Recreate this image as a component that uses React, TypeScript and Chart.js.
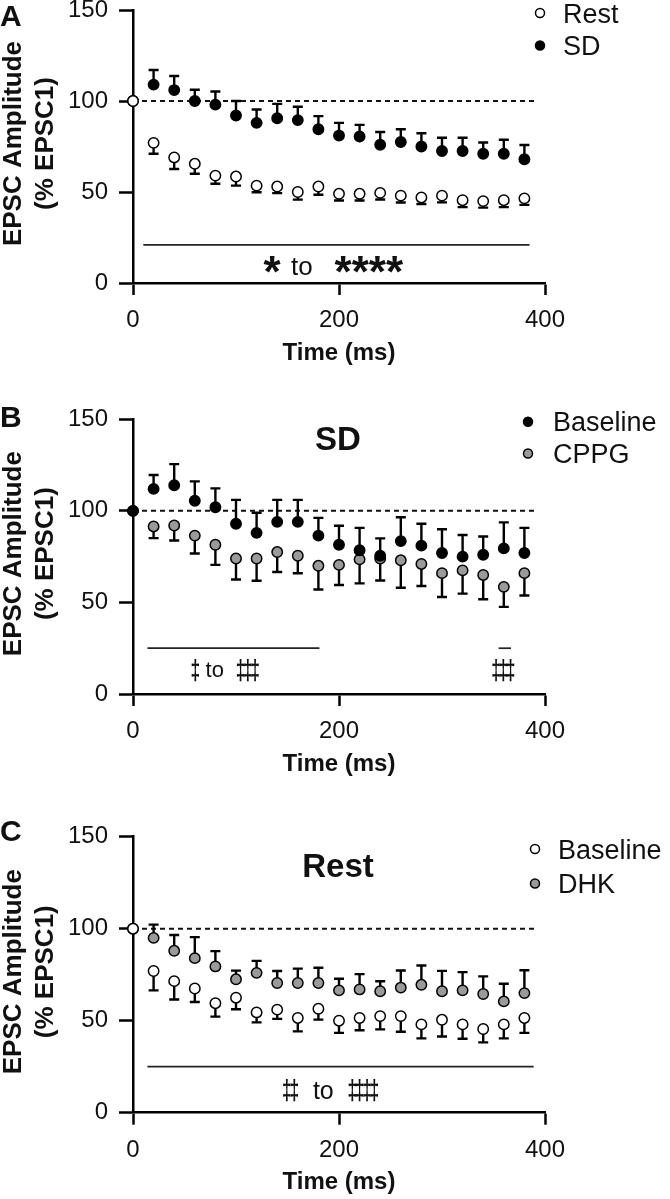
import React, { useEffect, useRef } from "react";
import { Chart, registerables } from "chart.js";

Chart.register(...registerables);

// ---------------- DATA ----------------
const TIME_MS = [0, 20, 40, 60, 80, 100, 120, 140, 160, 180, 200, 220, 240, 260, 280, 300, 320, 340, 360, 380];

// Panel A
const A_REST = [100, 77, 69, 65.5, 59, 58.5, 53.5, 53, 50, 53, 49, 49, 49.5, 48, 47, 48, 45.5, 45, 45.5, 46.5];
const A_REST_ERR = [0, 6, 6.4, 5.5, 4.5, 5, 3.6, 3.6, 4.2, 4.5, 3.7, 3.7, 3.6, 3.8, 3.6, 3.7, 3.8, 3.6, 3.8, 3.6];
const A_SD = [100, 109, 106, 100, 98, 92, 88, 90.5, 89.5, 84.5, 81, 80.5, 76, 77.5, 75, 72.5, 72.5, 71, 71, 68];
const A_SD_ERR = [0, 8, 7.7, 6.2, 7.2, 8, 7.3, 7.9, 7.3, 7.2, 7, 6.4, 7, 7, 7.3, 7.3, 7.3, 6.2, 7.7, 7.8];

// Panel B (SD)
const B_BASELINE = [100, 112, 114, 105.5, 102, 93, 88, 94, 94, 86.5, 81.5, 78.5, 75.5, 83.5, 81, 77, 75, 76, 79.5, 77];
const B_BASELINE_ERR = [0, 7.6, 11.5, 10.6, 10.3, 13, 11, 12, 12, 9.7, 10.4, 12.2, 9.5, 13, 12, 13, 11.8, 10, 14.2, 13.7];
const B_CPPG = [100, 91.5, 92, 86.5, 81.5, 74, 74, 77.5, 75.5, 70, 70.5, 73.5, 74, 73, 71, 66, 67.5, 65, 58.5, 66];
const B_CPPG_ERR = [0, 6.4, 8.2, 9.8, 11, 11.5, 12.2, 10.9, 9.6, 12.9, 11, 13.1, 12, 15, 12, 13, 12.7, 13.3, 10.9, 12.2];

// Panel C (Rest)
const C_BASELINE = [100, 77, 71.5, 67.5, 59.5, 62.5, 54.5, 56, 51.5, 56.5, 50, 51.5, 52.5, 52.5, 48, 50.5, 48, 45.5, 48, 51.5];
const C_BASELINE_ERR = [0, 10.5, 10, 7.3, 7.3, 6.3, 5.4, 5, 7.3, 5.9, 6.6, 6.7, 7.2, 8.5, 7.6, 9.1, 7.8, 7.3, 7.6, 8.1];
const C_DHK = [100, 95, 88, 84, 79.5, 72.5, 76, 70.5, 70.5, 70.5, 66.5, 67, 66, 68, 69.5, 66, 66.5, 64.5, 60.5, 65];
const C_DHK_ERR = [0, 7.2, 8.6, 11.4, 8.3, 4.7, 6.5, 6.5, 7.8, 8.3, 6.3, 8.3, 5.4, 9.3, 10.5, 11.1, 9.9, 9.6, 9.6, 12.4];

const Y_TICKS = [0, 50, 100, 150];
const X_TICKS = [0, 200, 400];
const Y_TITLE = ["EPSC Amplitude", "(% EPSC1)"];
const X_TITLE = "Time (ms)";

// ---------------- STYLE ----------------
const FONT = '"Liberation Sans", Arial, Helvetica, sans-serif';
const W = 670;
const PLOT_LEFT = 133;
const PLOT_RIGHT = 545;
const Y_AXIS_W = 80;
const X_AXIS_H = 50;
const GRAY = "#9a9a9a";
const INK = "#111";

type Series = { label: string; values: number[]; err: number[]; dir: 1 | -1; fill: string };
type Mark = { text?: string; dagger?: number; x: number; y: number; font: string };
type PanelCfg = {
  letter: string;
  letterY: number;
  title?: string;
  titleY?: number;
  series: Series[];
  legendY: number[];
  legendMarkerX: number;
  legendTextX: number;
  sigLines: number[][];
  marks: Mark[];
  top: number;
  height: number;
  chartTop: number;
  chartBottom: number;
};

const PANELS: PanelCfg[] = [
  {
    letter: "A", letterY: 16,
    series: [
      { label: "Rest", values: A_REST, err: A_REST_ERR, dir: -1, fill: "#fff" },
      { label: "SD", values: A_SD, err: A_SD_ERR, dir: 1, fill: "#000" },
    ],
    legendY: [13, 45.5], legendMarkerX: 540, legendTextX: 563,
    sigLines: [[10, 385, 21]],
    marks: [
      { text: "*", x: 135, y: 9.9, font: "bold 44px" },
      { text: "to", x: 164, y: 8.8, font: "26px" },
      { text: "****", x: 229, y: 9.9, font: "bold 44px" },
    ],
    top: -20, height: 405, chartTop: 10, chartBottom: 283,
  },
  {
    letter: "B", letterY: 417, title: "SD", titleY: 438,
    series: [
      { label: "Baseline", values: B_BASELINE, err: B_BASELINE_ERR, dir: 1, fill: "#000" },
      { label: "CPPG", values: B_CPPG, err: B_CPPG_ERR, dir: -1, fill: GRAY },
    ],
    legendY: [421.7, 453.5], legendMarkerX: 528, legendTextX: 553,
    sigLines: [[14, 181, 25], [355, 367, 25]],
    marks: [
      { dagger: 1, x: 60.5, y: 13, font: "bold 28px" },
      { text: "to", x: 79.4, y: 13.3, font: "22px" },
      { dagger: 3, x: 111.5, y: 13, font: "bold 28px" },
      { dagger: 3, x: 359.6, y: 13, font: "bold 28px" },
    ],
    top: 380, height: 420, chartTop: 419.3, chartBottom: 694,
  },
  {
    letter: "C", letterY: 831, title: "Rest", titleY: 865,
    series: [
      { label: "Baseline", values: C_BASELINE, err: C_BASELINE_ERR, dir: -1, fill: "#fff" },
      { label: "DHK", values: C_DHK, err: C_DHK_ERR, dir: 1, fill: GRAY },
    ],
    legendY: [849, 883.5], legendMarkerX: 535, legendTextX: 558,
    sigLines: [[14, 389, 25]],
    marks: [
      { dagger: 2, x: 153, y: 11.8, font: "bold 28px" },
      { text: "to", x: 184.8, y: 11.8, font: "25px" },
      { dagger: 4, x: 223.6, y: 11.8, font: "bold 28px" },
    ],
    top: 790, height: 409, chartTop: 836.7, chartBottom: 1112.7,
  },
];

function drawCentered(ctx: CanvasRenderingContext2D, text: string, cx: number, cy: number, font: string, align: CanvasTextAlign = "center") {
  ctx.font = font;
  ctx.textAlign = align;
  ctx.textBaseline = "alphabetic";
  const m = ctx.measureText(text);
  const asc = m.actualBoundingBoxAscent;
  const desc = m.actualBoundingBoxDescent;
  ctx.fillText(text, cx, cy + (asc - desc) / 2);
}

function makeOverlay(cfg: PanelCfg) {
  return {
    id: "overlay",
    beforeDatasetsDraw(chart: any) {
      const ctx: CanvasRenderingContext2D = chart.ctx;
      const xs = chart.scales.x;
      const ys = chart.scales.y;
      ctx.save();
      // dashed reference line at 100%
      ctx.strokeStyle = INK;
      ctx.lineWidth = 2;
      ctx.setLineDash([5, 4]);
      ctx.beginPath();
      ctx.moveTo(xs.getPixelForValue(0), ys.getPixelForValue(100));
      ctx.lineTo(xs.getPixelForValue(390), ys.getPixelForValue(100));
      ctx.stroke();
      ctx.setLineDash([]);
      // error bars (one-sided)
      ctx.lineWidth = 2.4;
      ctx.strokeStyle = "#000";
      cfg.series.forEach((s) => {
        TIME_MS.forEach((t, i) => {
          const e = s.err[i];
          if (!e) return;
          const x = xs.getPixelForValue(t);
          const y0 = ys.getPixelForValue(s.values[i]);
          const y1 = ys.getPixelForValue(s.values[i] + s.dir * e);
          ctx.beginPath();
          ctx.moveTo(x, y0);
          ctx.lineTo(x, y1);
          ctx.moveTo(x - 5, y1);
          ctx.lineTo(x + 5, y1);
          ctx.stroke();
        });
      });
      ctx.restore();
    },
    afterDraw(chart: any) {
      const ctx: CanvasRenderingContext2D = chart.ctx;
      const xs = chart.scales.x;
      const ys = chart.scales.y;
      const area = chart.chartArea;
      const off = cfg.top;
      ctx.save();
      ctx.fillStyle = INK;

      // significance lines
      ctx.strokeStyle = "#222";
      ctx.lineWidth = 1.7;
      cfg.sigLines.forEach(([a, b, v]) => {
        const y = ys.getPixelForValue(v);
        ctx.beginPath();
        ctx.moveTo(xs.getPixelForValue(a), y);
        ctx.lineTo(xs.getPixelForValue(b), y);
        ctx.stroke();
      });
      // significance marks
      cfg.marks.forEach((m) => {
        const cx = xs.getPixelForValue(m.x);
        const cy = ys.getPixelForValue(m.y);
        const font = `${m.font} ${FONT}`;
        if (m.dagger) {
          const sp = 7.3;
          for (let k = 0; k < m.dagger; k++) {
            const x = cx + (k - (m.dagger - 1) / 2) * sp;
            ctx.save();
            ctx.translate(x, 0);
            ctx.scale(0.62, 1);
            drawCentered(ctx, "\u2021", 0, cy, font);
            ctx.restore();
          }
        } else if (m.text) {
          drawCentered(ctx, m.text, cx, cy, font);
        }
      });

      // panel letter
      drawCentered(ctx, cfg.letter, 0, cfg.letterY - off, `bold 30px ${FONT}`, "left");
      // panel title
      if (cfg.title) {
        drawCentered(ctx, cfg.title, 338, (cfg.titleY as number) - off, `bold 33px ${FONT}`);
      }
      // legend
      cfg.series.forEach((s, i) => {
        const y = cfg.legendY[i] - off;
        ctx.beginPath();
        ctx.arc(cfg.legendMarkerX, y, 4.5, 0, Math.PI * 2);
        ctx.fillStyle = s.fill;
        ctx.fill();
        ctx.lineWidth = 1.5;
        ctx.strokeStyle = "#000";
        ctx.stroke();
        ctx.fillStyle = INK;
        ctx.font = `27px ${FONT}`;
        ctx.textAlign = "left";
        ctx.textBaseline = "alphabetic";
        ctx.fillText(s.label, cfg.legendTextX, y + 27 * 0.716 / 2);
      });

      // y axis title (two rotated lines)
      const midY = (area.top + area.bottom) / 2 - 3;
      ctx.save();
      ctx.translate(14, midY);
      ctx.rotate(-Math.PI / 2);
      ctx.font = `bold 26px ${FONT}`;
      ctx.textAlign = "center";
      ctx.textBaseline = "middle";
      ctx.fillText(Y_TITLE[0], 0, 0);
      ctx.fillText(Y_TITLE[1], 0, 32);
      ctx.restore();

      // x axis title
      drawCentered(ctx, X_TITLE, (area.left + area.right) / 2, area.bottom + 70, `bold 24px ${FONT}`);
      ctx.restore();
    },
  };
}

function Panel({ cfg }: { cfg: PanelCfg }) {
  const ref = useRef<HTMLCanvasElement>(null);
  useEffect(() => {
    const canvas = ref.current as HTMLCanvasElement;
    const chartTopLocal = cfg.chartTop - cfg.top;
    const chartBottomLocal = cfg.chartBottom - cfg.top;
    const chart = new Chart(canvas, {
      type: "scatter",
      data: {
        datasets: cfg.series.map((s) => ({
          label: s.label,
          data: TIME_MS.map((t, i) => ({ x: t, y: s.values[i] })),
          pointRadius: 5.2,
          pointHoverRadius: 5.2,
          pointBackgroundColor: s.fill,
          pointBorderColor: "#000",
          pointBorderWidth: 1.5,
          showLine: false,
          clip: false,
        })),
      },
      options: {
        responsive: false,
        animation: false,
        devicePixelRatio: 1,
        events: [],
        layout: {
          padding: {
            left: PLOT_LEFT - Y_AXIS_W,
            right: W - PLOT_RIGHT,
            top: chartTopLocal,
            bottom: cfg.height - chartBottomLocal - X_AXIS_H,
          },
        },
        plugins: { legend: { display: false }, tooltip: { enabled: false }, title: { display: false } },
        scales: {
          x: {
            type: "linear",
            position: "bottom",
            min: 0,
            max: 400,
            afterBuildTicks: (s: any) => { s.ticks = X_TICKS.map((v) => ({ value: v })); },
            afterFit: (s: any) => { s.height = X_AXIS_H; },
            border: { display: true, color: "#000", width: 2.5 },
            grid: { drawOnChartArea: false, drawTicks: true, tickLength: 12, tickWidth: 2.5, tickColor: "#000", color: "#000" },
            ticks: { color: INK, font: { family: FONT, size: 24 }, padding: 11, maxRotation: 0, autoSkip: false },
          },
          y: {
            type: "linear",
            position: "left",
            min: 0,
            max: 150,
            afterBuildTicks: (s: any) => { s.ticks = Y_TICKS.map((v) => ({ value: v })); },
            afterFit: (s: any) => { s.width = Y_AXIS_W; },
            border: { display: true, color: "#000", width: 2.5 },
            grid: { drawOnChartArea: false, drawTicks: true, tickLength: 14, tickWidth: 2.5, tickColor: "#000", color: "#000" },
            ticks: { color: INK, font: { family: FONT, size: 24 }, padding: 11, autoSkip: false },
          },
        },
      },
      plugins: [makeOverlay(cfg)],
    } as any);
    return () => chart.destroy();
  }, [cfg]);
  return (
    <canvas
      ref={ref}
      width={W}
      height={cfg.height}
      style={{ position: "absolute", left: 0, top: cfg.top, width: W, height: cfg.height }}
    />
  );
}

export default function App() {
  return (
    <div style={{ position: "absolute", left: 0, top: 0, width: W, height: 1199, background: "#fff", overflow: "hidden" }}>
      {PANELS.map((p) => (
        <Panel key={p.letter} cfg={p} />
      ))}
    </div>
  );
}
